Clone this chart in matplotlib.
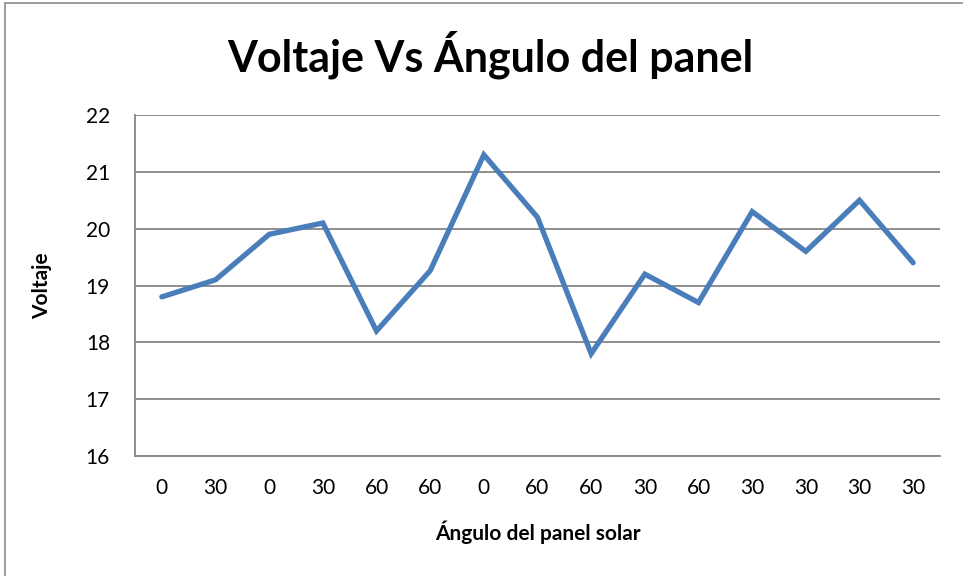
import matplotlib
matplotlib.use("Agg")
import matplotlib.pyplot as plt
from matplotlib.patches import Rectangle

categories = ["0", "30", "0", "30", "60", "60", "0", "60", "60", "30", "60", "30", "30", "30", "30"]
voltaje = [18.8, 19.1, 19.9, 20.1, 18.2, 19.26, 21.3, 20.2, 17.8, 19.2, 18.7, 20.3, 19.6, 20.5, 19.4]
yticks = [16, 17, 18, 19, 20, 21, 22]

plt.rcParams['font.family'] = ['Lato', 'DejaVu Sans']

fig = plt.figure(figsize=(9.63, 5.76), dpi=100)
fig.patch.set_facecolor('white')
fig.patches.append(Rectangle((5/963, -0.1), 1.2, (576-3)/576 + 0.1, transform=fig.transFigure,
                             fill=False, edgecolor='#8c8c8c', linewidth=1.2))

ax = fig.add_axes([135/963, 1 - 456/576, (940-135)/963, (456-115)/576])
x = list(range(len(categories)))
ax.plot(x, voltaje, color='#4A7EBB', linewidth=3.8, solid_capstyle='round', solid_joinstyle='miter', zorder=3)

ax.set_xlim(-0.5, len(categories) - 0.5)
ax.set_ylim(16, 22)
ax.set_yticks(yticks)
ax.set_xticks(x)
ax.set_xticklabels(categories)
ax.tick_params(axis='both', length=0, labelsize=15, colors='black')
ax.tick_params(axis='y', pad=18)
ax.tick_params(axis='x', pad=16)
ax.grid(axis='y', color='#868686', linewidth=1.3)
ax.set_axisbelow(True)
for s in ['top', 'right']:
    ax.spines[s].set_visible(False)
for s in ['left', 'bottom']:
    ax.spines[s].set_color('#868686')
    ax.spines[s].set_linewidth(1.3)

ax.set_ylabel("Voltaje", fontsize=15, fontweight='bold', labelpad=24)
ax.set_xlabel("Ángulo del panel solar", fontsize=15, fontweight='bold', labelpad=16)
fig.text(490/963, 1 - 55/576, "Voltaje Vs Ángulo del panel", ha='center', va='center',
         fontsize=31, fontweight='bold')

fig.savefig("out.png", dpi=100)
